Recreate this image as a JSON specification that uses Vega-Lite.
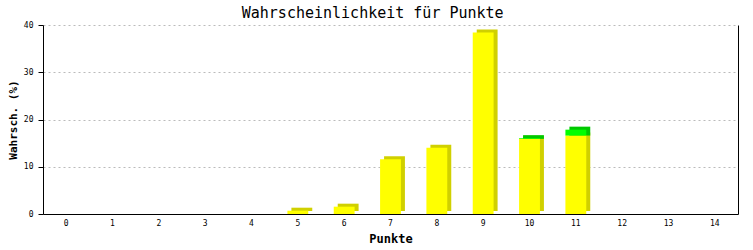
{
  "$schema": "https://vega.github.io/schema/vega-lite/v6.json",
  "width": 695,
  "height": 189,
  "autosize": {"type": "none"},
  "padding": {"left": 43, "top": 25, "right": 15, "bottom": 36},
  "background": "white",
  "title": {
    "text": "Wahrscheinlichkeit für Punkte",
    "font": "DejaVu Sans Mono",
    "fontSize": 15,
    "fontWeight": "normal",
    "color": "black",
    "anchor": "middle",
    "frame": "bounds",
    "offset": 0
  },
  "data": {
    "values": [
      {"punkte": 0, "art": "gelb", "wert": 0},
      {"punkte": 1, "art": "gelb", "wert": 0},
      {"punkte": 2, "art": "gelb", "wert": 0},
      {"punkte": 3, "art": "gelb", "wert": 0},
      {"punkte": 4, "art": "gelb", "wert": 0},
      {"punkte": 5, "art": "gelb", "wert": 0.7},
      {"punkte": 6, "art": "gelb", "wert": 1.55},
      {"punkte": 7, "art": "gelb", "wert": 11.6},
      {"punkte": 8, "art": "gelb", "wert": 14.0},
      {"punkte": 9, "art": "gelb", "wert": 38.4},
      {"punkte": 10, "art": "gelb", "wert": 15.9},
      {"punkte": 10, "art": "grün", "wert": 0.15},
      {"punkte": 11, "art": "gelb", "wert": 16.6},
      {"punkte": 11, "art": "grün", "wert": 1.25},
      {"punkte": 12, "art": "gelb", "wert": 0},
      {"punkte": 13, "art": "gelb", "wert": 0},
      {"punkte": 14, "art": "gelb", "wert": 0}
    ]
  },
  "transform": [
    {"stack": "wert", "groupby": ["punkte"], "sort": [{"field": "art", "order": "ascending"}], "as": ["wert_von", "wert_bis"]}
  ],
  "config": {
    "view": {"stroke": null},
    "axis": {
      "domainColor": "black",
      "domainWidth": 1,
      "tickColor": "black",
      "labelFont": "DejaVu Sans Mono",
      "labelFontSize": 8,
      "labelColor": "black",
      "titleFont": "DejaVu Sans Mono",
      "titleFontWeight": "bold",
      "titleFontSize": 12,
      "titleColor": "black"
    }
  },
  "encoding": {
    "x": {
      "field": "punkte",
      "type": "ordinal",
      "scale": {"paddingInner": 0.55, "paddingOuter": 0.275},
      "axis": {
        "title": "Punkte",
        "labelAngle": 0,
        "ticks": false,
        "grid": false,
        "labelPadding": 5,
        "titlePadding": 6
      }
    }
  },
  "layer": [
    {
      "transform": [{"filter": "datum.art === 'gelb'"}],
      "mark": {"type": "bar", "color": "#d0d000", "xOffset": 4, "x2Offset": 4, "yOffset": -3, "y2Offset": -3},
      "encoding": {
        "y": {
          "field": "wert_bis",
          "type": "quantitative",
          "scale": {"domain": [0, 40], "nice": false},
          "axis": {
            "title": "Wahrsch. (%)",
            "values": [0, 10, 20, 30, 40],
            "grid": true,
            "gridColor": "#bbbbbb",
            "gridDash": [2, 3],
            "tickSize": 5,
            "labelPadding": 5,
            "titlePadding": 5,
            "titleFontSize": 11
          }
        },
        "y2": {"field": "wert_von"}
      }
    },
    {
      "transform": [{"filter": "datum.art === 'grün'"}],
      "mark": {"type": "bar", "color": "#00c800", "xOffset": 4, "x2Offset": 4, "yOffset": -3, "y2Offset": 0},
      "encoding": {
        "y": {"field": "wert_bis", "type": "quantitative", "axis": null},
        "y2": {"field": "wert_von"}
      }
    },
    {
      "mark": {"type": "bar"},
      "encoding": {
        "y": {
          "field": "wert_bis",
          "type": "quantitative",
          "axis": {"orient": "right", "labels": false, "ticks": false, "grid": false, "title": null}
        },
        "y2": {"field": "wert_von"},
        "color": {
          "field": "art",
          "type": "nominal",
          "scale": {"domain": ["gelb", "grün"], "range": ["#ffff00", "#00ff00"]},
          "legend": null
        }
      }
    }
  ],
  "resolve": {"axis": {"y": "independent"}}
}
